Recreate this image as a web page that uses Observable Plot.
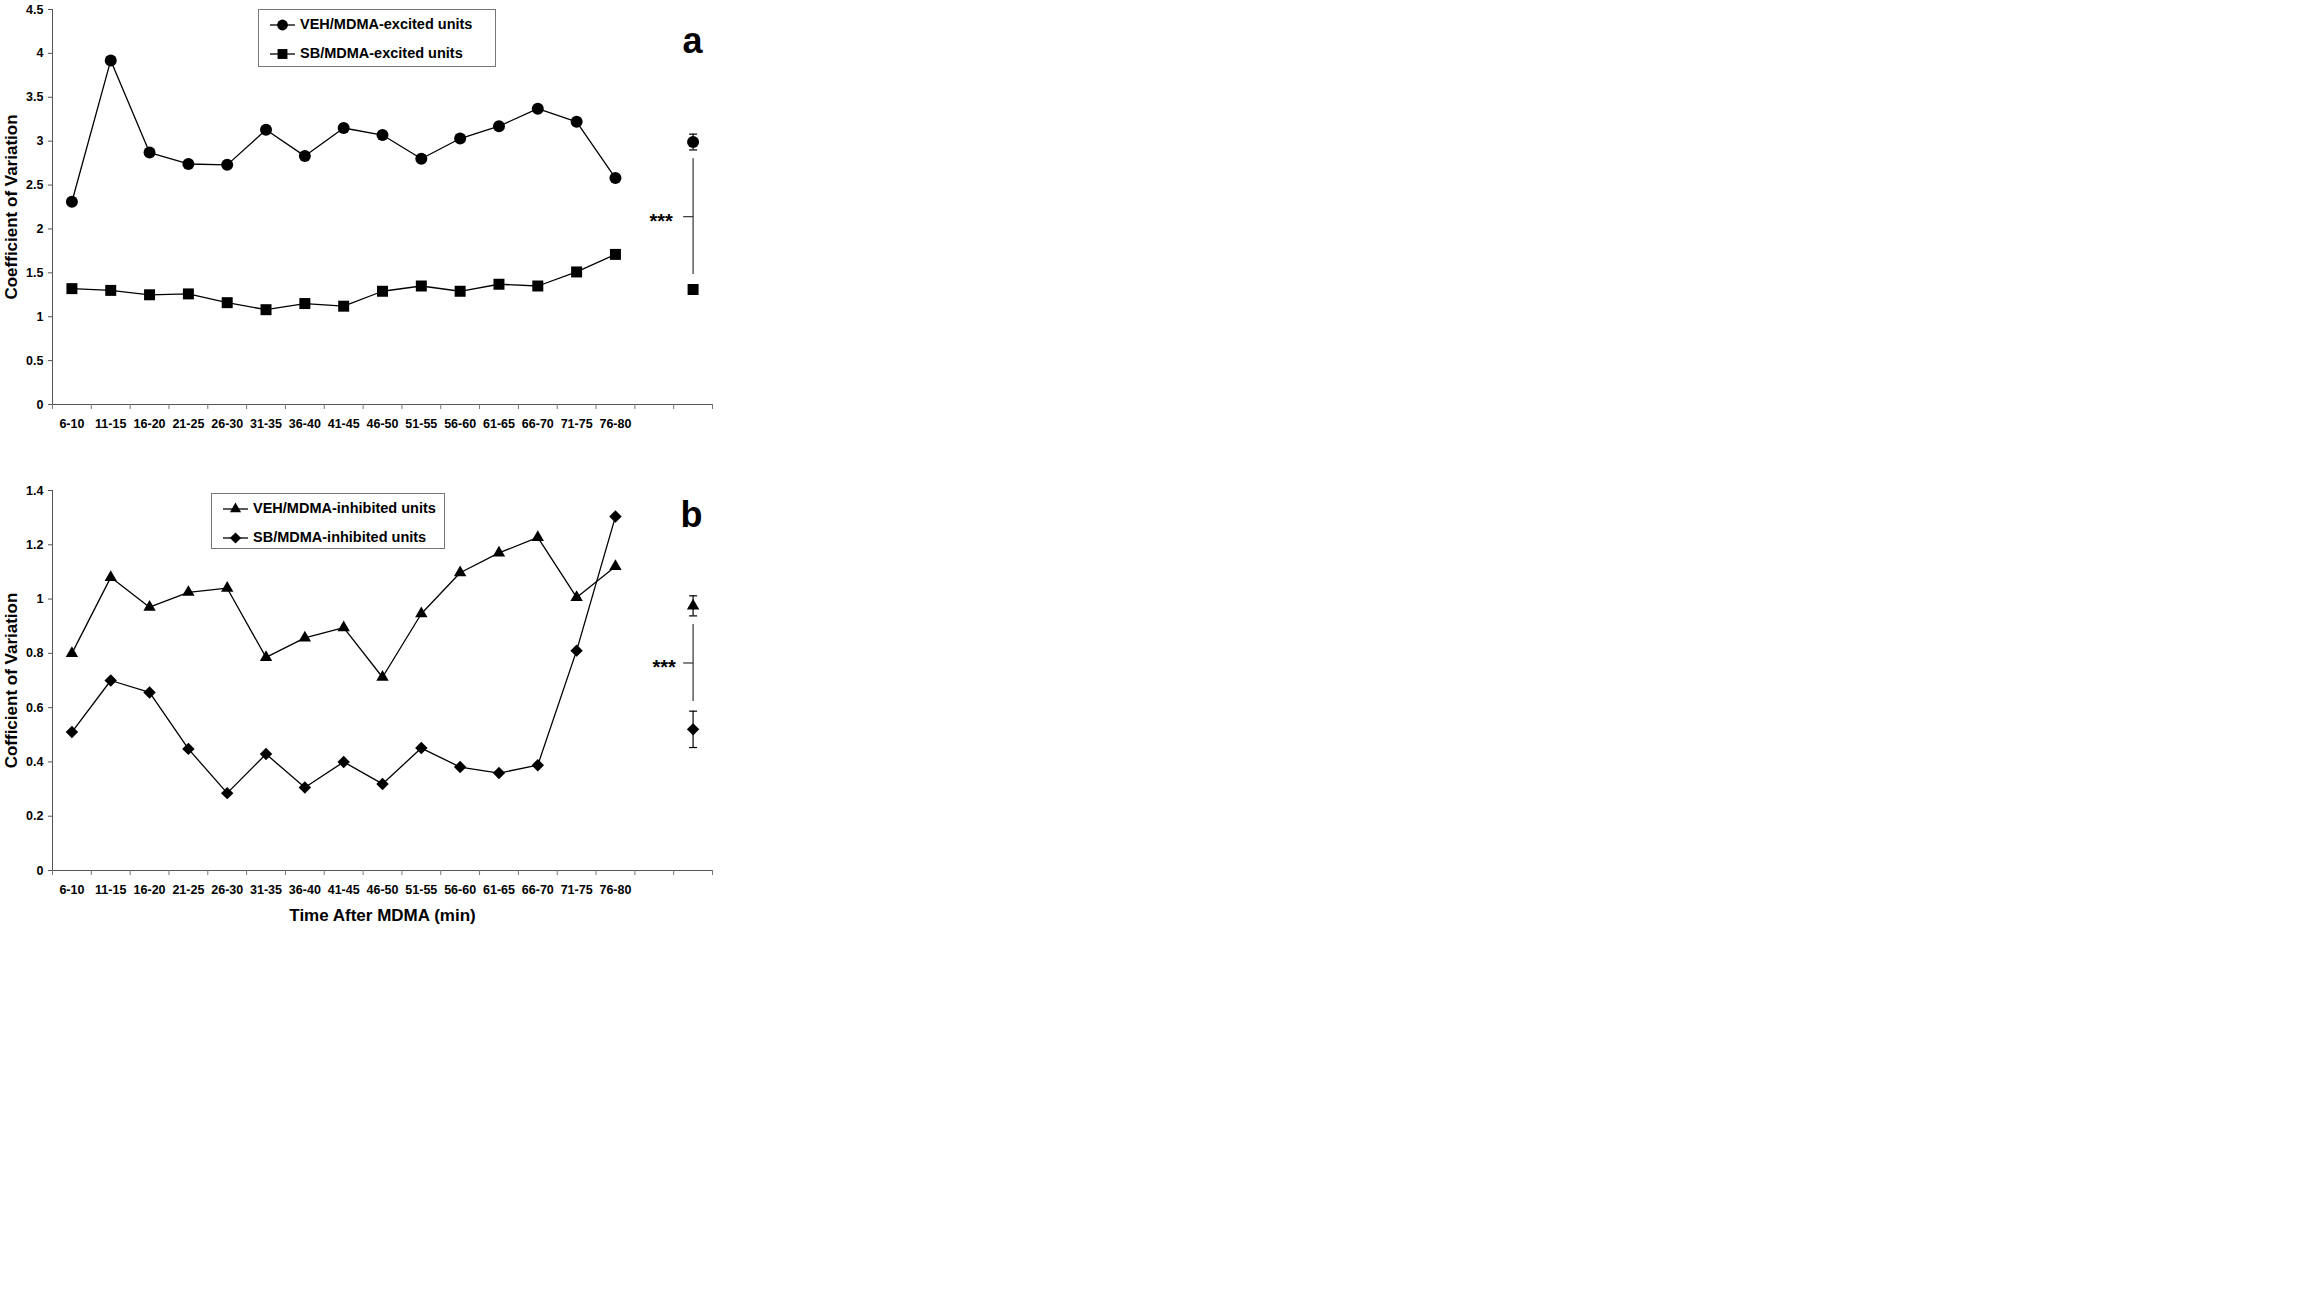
<!DOCTYPE html>
<html>
<head>
<meta charset="utf-8">
<script src="https://cdn.jsdelivr.net/npm/d3@7"></script>
<script src="https://cdn.jsdelivr.net/npm/@observablehq/plot@0.6"></script>
<style>
  html, body { margin: 0; padding: 0; background: #fff; }
  #fig { position: relative; width: 2304px; height: 1296px; font-family: "Liberation Sans", Arial, sans-serif; }
  .panel { position: absolute; left: 0; }
  .legend { position: absolute; box-sizing: border-box; border: 1px solid #777; background: #fff; }
  .legend .row { position: absolute; left: 0; height: 20px; }
  .legend .row svg { position: absolute; left: 0; top: 0; }
  .legend .row span { position: absolute; top: 1px; white-space: nowrap; font: bold 14.5px "Liberation Sans", Arial, sans-serif; color: #000; }
</style>
</head>
<body>
<div id="fig"></div>
<script>
// ---- data ----
const timeBins = ["6-10","11-15","16-20","21-25","26-30","31-35","36-40","41-45","46-50","51-55","56-60","61-65","66-70","71-75","76-80"];
const vehExcited = [2.31, 3.92, 2.87, 2.74, 2.73, 3.13, 2.83, 3.15, 3.07, 2.80, 3.03, 3.17, 3.37, 3.22, 2.58];
const sbExcited  = [1.32, 1.30, 1.25, 1.26, 1.16, 1.08, 1.15, 1.12, 1.29, 1.35, 1.29, 1.37, 1.35, 1.51, 1.71];
const vehInhibited = [0.80, 1.08, 0.97, 1.025, 1.04, 0.785, 0.857, 0.895, 0.712, 0.946, 1.097, 1.17, 1.227, 1.006, 1.12];
const sbInhibited  = [0.51, 0.70, 0.656, 0.448, 0.285, 0.429, 0.306, 0.40, 0.319, 0.451, 0.381, 0.359, 0.388, 0.81, 1.304];
const excitedMeans = [2.99, 1.31];
const excitedErrs  = [0.09, 0.02];
const inhibitedMeans = [0.975, 0.52];
const inhibitedErrs  = [0.037, 0.067];
const excitedBracket = [1.48, 2.80];
const inhibitedBracket = [0.623, 0.906];
const yTicksA = [0, 0.5, 1, 1.5, 2, 2.5, 3, 3.5, 4, 4.5];
const yTicksB = [0, 0.2, 0.4, 0.6, 0.8, 1, 1.2, 1.4];
const legendA = ["VEH/MDMA-excited units", "SB/MDMA-excited units"];
const legendB = ["VEH/MDMA-inhibited units", "SB/MDMA-inhibited units"];

const nSlots = timeBins.length + 2;          // 15 bins + empty slot + summary slot
const summarySlot = nSlots - 0.5;

const capSymbol = { draw(ctx, size) { const w = Math.sqrt(size); ctx.moveTo(-w / 2, 0); ctx.lineTo(w / 2, 0); } };
const leftTickSymbol = { draw(ctx, size) { const w = Math.sqrt(size); ctx.moveTo(-w, 0); ctx.lineTo(0, 0); } };

const symR = { circle: 6, square: 6.2, triangle: 4.6, diamond2: 5.6 };

function panel({series, symbols, means, errs, bracket, yTicks, yMax, letter, letterDy, yTitle, xTitle, marginTop, marginBottom, height, starDx}) {
  const marks = [
    Plot.ruleX([0], {stroke: "#555"}),
    Plot.ruleY([0], {stroke: "#555"}),
    Plot.axisY({ticks: yTicks, tickSize: 4, tickPadding: 5, tickFormat: d => String(d), label: null, fontSize: 12.5, stroke: "#555", fill: "#000"}),
    Plot.axisX({ticks: d3.range(nSlots + 1), tickSize: 5, tickFormat: () => "", label: null, stroke: "#777"}),
    Plot.axisX({ticks: timeBins.map((_, i) => i + 0.5), tickSize: 0, tickPadding: 15, tickFormat: v => timeBins[Math.floor(v)], label: null, fontSize: 12.5, fill: "#000"}),
    Plot.text([yTitle], {frameAnchor: "left", textAnchor: "middle", dx: -41, rotate: -90, fontSize: 17, fill: "#000"}),
    Plot.text([letter], {frameAnchor: "top-right", dx: -10, dy: letterDy, fontSize: 36, fill: "#000"})
  ];
  if (xTitle) marks.push(Plot.text([xTitle], {frameAnchor: "bottom", dy: 50, fontSize: 17, fill: "#000"}));
  series.forEach((s, k) => {
    marks.push(Plot.line(s, {x: (d, i) => i + 0.5, y: d => d, stroke: "#000", strokeWidth: 1.3}));
    marks.push(Plot.dot(s, {x: (d, i) => i + 0.5, y: d => d, symbol: symbols[k], r: symR[symbols[k]], fill: "#000", stroke: "none"}));
    const m = means[k], e = errs[k];
    marks.push(Plot.ruleX([m], {x: summarySlot, y1: d => d - e, y2: d => d + e, stroke: "#000", strokeWidth: 1.2}));
    marks.push(Plot.dot([m - e, m + e], {x: summarySlot, y: d => d, symbol: capSymbol, r: 4.5, stroke: "#000", fill: "none", strokeWidth: 1.2}));
    marks.push(Plot.dot([m], {x: summarySlot, y: d => d, symbol: symbols[k], r: symR[symbols[k]], fill: "#000", stroke: "none"}));
  });
  const mid = (bracket[0] + bracket[1]) / 2;
  marks.push(Plot.ruleX([bracket], {x: summarySlot, y1: d => d[0], y2: d => d[1], stroke: "#333", strokeWidth: 1.2}));
  marks.push(Plot.dot([mid], {x: summarySlot, y: d => d, symbol: leftTickSymbol, r: 5.6, stroke: "#333", fill: "none", strokeWidth: 1.2}));
  marks.push(Plot.text([mid], {x: summarySlot, y: d => d, text: () => "***", dx: starDx, dy: 5, fontSize: 20, fill: "#000"}));

  return Plot.plot({
    width: 720,
    height,
    marginLeft: 52,
    marginRight: 8,
    marginTop,
    marginBottom,
    x: {type: "linear", domain: [0, nSlots], axis: null},
    y: {domain: [0, yMax], axis: null},
    style: {fontFamily: "'Liberation Sans', Arial, sans-serif", fontWeight: "bold", background: "#fff", overflow: "visible", color: "#000"},
    marks
  });
}

function legend(parent, {left, top, width, height, labels, symbols}) {
  const box = document.createElement("div");
  box.className = "legend";
  Object.assign(box.style, {left: left + "px", top: top + "px", width: width + "px", height: height + "px"});
  const rowCenters = [16, 45];
  labels.forEach((lab, i) => {
    const row = document.createElement("div");
    row.className = "row";
    row.style.top = (rowCenters[i] - 10 - 1) + "px";
    row.style.width = (width - 2) + "px";
    const svg = d3.create("svg").attr("width", 40).attr("height", 20);
    svg.append("line").attr("x1", 11).attr("x2", 36).attr("y1", 10).attr("y2", 10).attr("stroke", "#000").attr("stroke-width", 1.3);
    const sym = {circle: d3.symbolCircle, square: d3.symbolSquare, triangle: d3.symbolTriangle, diamond2: d3.symbolDiamond2}[symbols[i]];
    const r = symR[symbols[i]] * 0.9;
    svg.append("path").attr("transform", "translate(23.5,10)").attr("d", d3.symbol(sym, Math.PI * r * r)()).attr("fill", "#000");
    row.appendChild(svg.node());
    const span = document.createElement("span");
    span.textContent = lab;
    span.style.left = "41px";
    row.appendChild(span);
    box.appendChild(row);
  });
  parent.appendChild(box);
}

const fig = document.getElementById("fig");

const a = panel({
  series: [vehExcited, sbExcited], symbols: ["circle", "square"],
  means: excitedMeans, errs: excitedErrs, bracket: excitedBracket,
  yTicks: yTicksA, yMax: 4.5, letter: "a", letterDy: 18, yTitle: "Coefficient of Variation",
  marginTop: 9, marginBottom: 36, height: 440, starDx: -32
});
a.classList.add("panel"); a.style.top = "0px";
fig.appendChild(a);

const b = panel({
  series: [vehInhibited, sbInhibited], symbols: ["triangle", "diamond2"],
  means: inhibitedMeans, errs: inhibitedErrs, bracket: inhibitedBracket,
  yTicks: yTicksB, yMax: 1.4, letter: "b", letterDy: 11, yTitle: "Cofficient of Variation", xTitle: "Time After MDMA (min)",
  marginTop: 50, marginBottom: 65, height: 495, starDx: -29
});
b.classList.add("panel"); b.style.top = "440px";
fig.appendChild(b);

legend(fig, {left: 258, top: 9, width: 238, height: 58, labels: legendA, symbols: ["circle", "square"]});
legend(fig, {left: 211, top: 493, width: 234, height: 56, labels: legendB, symbols: ["triangle", "diamond2"]});
</script>
</body>
</html>
